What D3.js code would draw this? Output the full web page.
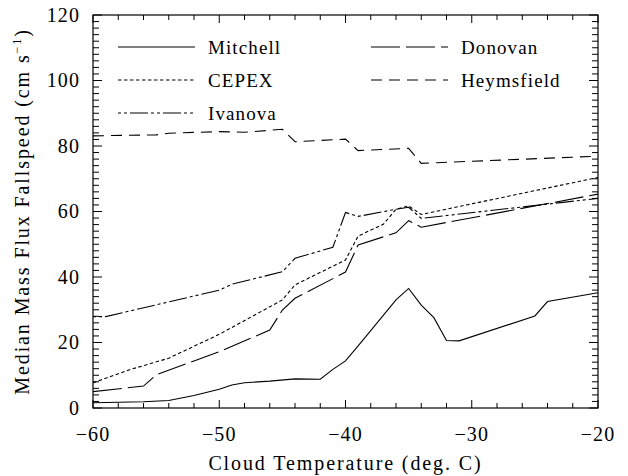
<!DOCTYPE html>
<html>
<head>
<meta charset="utf-8">
<script src="https://cdn.jsdelivr.net/npm/d3@7"></script>
<style>
  body { margin: 0; background: #fff; }
  text { font-family: "Liberation Serif", "DejaVu Serif", serif; fill: #000; letter-spacing: 1.1px; }
  .title { letter-spacing: 1.9px; }
</style>
</head>
<body>
<div id="canvas"></div>
<script>
// Series values (temperature in deg C, fallspeed in cm/s).
const mitchellT = [-60, -56, -54, -52, -50, -49, -48, -46, -44, -42, -41, -40, -39, -38, -36, -35, -34, -33, -32, -31, -25, -24, -20];
const mitchellV = [1.6, 1.9, 2.3, 3.8, 5.7, 7.0, 7.7, 8.2, 8.9, 8.8, 11.8, 14.4, 19.0, 23.6, 33.0, 36.5, 31.4, 27.6, 20.6, 20.5, 28.1, 32.5, 35.2];

const cepexT = [-60, -57, -54, -50, -45, -44, -40, -39, -37, -36, -35, -34, -20];
const cepexV = [7.7, 11.8, 15.2, 22.5, 33.0, 37.6, 45.2, 52.5, 56.1, 60.7, 61.7, 59.1, 70.4];

const ivanovaT = [-60, -59, -50, -49, -45, -44, -41, -40, -39, -36, -35, -34, -20];
const ivanovaV = [27.9, 27.9, 36.0, 37.8, 41.6, 45.7, 49.1, 59.7, 58.5, 60.7, 61.3, 57.9, 64.0];

const donovanT = [-60, -56, -55, -50, -46, -45, -44, -40, -39, -36, -35, -34, -20];
const donovanV = [5.0, 6.7, 10.1, 17.2, 23.8, 29.9, 33.5, 41.5, 49.8, 53.5, 57.2, 55.2, 65.3];

const heymsT = [-60, -55, -54, -50, -48, -45, -44, -40, -39, -35, -34, -20];
const heymsV = [83.1, 83.4, 83.9, 84.4, 84.2, 85.1, 81.3, 82.1, 78.6, 79.3, 74.7, 76.9];

const xTicks = [-60, -50, -40, -30, -20];
const yTicks = [0, 20, 40, 60, 80, 100, 120];

// Layout.
const W = 628, H = 476;
const mLeft = 93, mRight = 598, mTop = 15, mBottom = 408;

const svg = d3.select("#canvas").append("svg")
    .attr("width", W)
    .attr("height", H);

const x = d3.scaleLinear().domain([-60, -20]).range([mLeft, mRight]);
const y = d3.scaleLinear().domain([0, 120]).range([mBottom, mTop]);

// Series styles (dash patterns as in the original plot).
const series = [
    { name: "Mitchell",   t: mitchellT, v: mitchellV, dash: null,            col: 0, row: 0 },
    { name: "CEPEX",      t: cepexT,    v: cepexV,    dash: "3.5,2.5",       col: 0, row: 1 },
    { name: "Ivanova",    t: ivanovaT,  v: ivanovaV,  dash: "3,3,3,3,18,3",  col: 0, row: 2 },
    { name: "Donovan",    t: donovanT,  v: donovanV,  dash: "29,6",          col: 1, row: 0 },
    { name: "Heymsfield", t: heymsT,    v: heymsV,    dash: "11,7",          col: 1, row: 1 }
];

const line = d3.line()
    .x(d => x(d[0]))
    .y(d => y(d[1]));

svg.append("g")
    .selectAll("path")
    .data(series)
    .join("path")
    .attr("d", s => line(s.t.map((t, i) => [t, s.v[i]])))
    .attr("fill", "none")
    .attr("stroke", "#000")
    .attr("stroke-width", 1.1)
    .attr("stroke-dasharray", s => s.dash);

// Ticks on all four sides, pointing inward.
const xMinor = d3.range(-60, -19, 2);
const yMinor = d3.range(0, 121, 2);
const ticks = svg.append("g").attr("stroke", "#000").attr("stroke-width", 1);

xMinor.forEach(v => {
    const len = v % 10 === 0 ? 8 : 5;
    ticks.append("line").attr("x1", x(v)).attr("x2", x(v)).attr("y1", mBottom).attr("y2", mBottom - len);
    ticks.append("line").attr("x1", x(v)).attr("x2", x(v)).attr("y1", mTop).attr("y2", mTop + len);
});
yMinor.forEach(v => {
    const len = v % 20 === 0 ? 9 : 6;
    ticks.append("line").attr("y1", y(v)).attr("y2", y(v)).attr("x1", mLeft).attr("x2", mLeft + len);
    ticks.append("line").attr("y1", y(v)).attr("y2", y(v)).attr("x1", mRight).attr("x2", mRight - len);
});

// Frame.
svg.append("rect")
    .attr("x", mLeft).attr("y", mTop)
    .attr("width", mRight - mLeft).attr("height", mBottom - mTop)
    .attr("fill", "none")
    .attr("stroke", "#000")
    .attr("stroke-width", 1.2);

// Tick labels.
svg.append("g")
    .selectAll("text")
    .data(xTicks)
    .join("text")
    .attr("x", d => x(d))
    .attr("y", 441)
    .attr("text-anchor", "middle")
    .attr("font-size", 20)
    .text(d => d < 0 ? "\u2212" + Math.abs(d) : d);

svg.append("g")
    .selectAll("text")
    .data(yTicks)
    .join("text")
    .attr("x", 80)
    .attr("y", d => y(d))
    .attr("dy", "0.33em")
    .attr("text-anchor", "end")
    .attr("font-size", 20)
    .text(d => d);

// Axis titles.
svg.append("text")
    .attr("class", "title")
    .attr("x", (mLeft + mRight) / 2)
    .attr("y", 470)
    .attr("text-anchor", "middle")
    .attr("font-size", 20)
    .text("Cloud Temperature (deg. C)");

const yt = svg.append("text")
    .attr("class", "title")
    .attr("transform", `translate(29, ${(mTop + mBottom) / 2}) rotate(-90)`)
    .attr("text-anchor", "middle")
    .attr("font-size", 20);
yt.append("tspan").text("Median Mass Flux Fallspeed (cm s");
yt.append("tspan").attr("font-size", 12).attr("dy", -8).text("\u22121");
yt.append("tspan").attr("dy", 8).text(")");

// Legend.
const legX = [118, 371], legTextX = [208, 461], legY = [47, 80, 113];
const leg = svg.append("g")
    .selectAll("g")
    .data(series)
    .join("g");

leg.append("line")
    .attr("x1", s => legX[s.col])
    .attr("x2", s => legX[s.col] + 77)
    .attr("y1", s => legY[s.row])
    .attr("y2", s => legY[s.row])
    .attr("stroke", "#000")
    .attr("stroke-width", 1.1)
    .attr("stroke-dasharray", s => s.dash);

leg.append("text")
    .attr("x", s => legTextX[s.col])
    .attr("y", s => legY[s.row] + 7)
    .attr("font-size", 19)
    .text(s => s.name);
</script>
</body>
</html>
